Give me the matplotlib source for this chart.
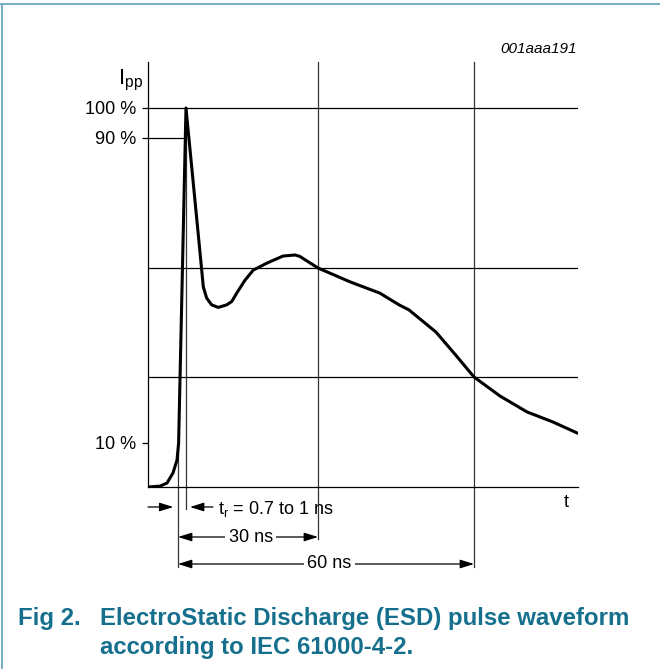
import numpy as np
import matplotlib
matplotlib.use('Agg')
import matplotlib.pyplot as plt
from matplotlib.lines import Line2D
from matplotlib.transforms import blended_transform_factory

plt.rcParams['font.family'] = ['Liberation Sans', 'DejaVu Sans']
plt.rcParams['mathtext.fontset'] = 'custom'
plt.rcParams['mathtext.rm'] = 'Liberation Sans'
plt.rcParams['mathtext.it'] = 'Liberation Sans:italic'

# ESD pulse: time in ns (0 = 10 % point), current in % of Ipp
t_ns = [-6, -3.6, -2.2, -1.0, -0.2, 0.13, 1.71, 5.08, 5.42, 6.15, 7.22, 8.64,
        10.43, 11.51, 12.58, 14.36, 16.13, 19.07, 22.5, 25.07, 26.1, 30,
        36.15, 41.9, 45.6, 47.5, 52.7, 56.5, 60, 65, 70.2, 75.2, 79.8]
i_pct = [0, 0.2, 0.9, 3.2, 6.1, 10, 100, 52.5, 48.5, 45.8, 44.2, 43.6,
         44.2, 45.0, 47.0, 50.1, 52.5, 54.4, 56.4, 56.7, 56.3, 53,
         49.7, 47.0, 44.2, 43.0, 37.7, 32.2, 27, 22.1, 18.0, 15.4, 12.6]

ytick_vals = [10, 90, 100]
ytick_labels = ['10 %', '90 %', '100 %']
level_lines = [27, 53, 100]       # horizontal reference levels
time_marks = [30, 60]             # vertical reference times, ns
dimensions = [('30 ns', 0, 30), ('60 ns', 0, 60)]
rise_label = 't$_\\mathrm{r}$ = 0.7 to 1 ns'

W, H = 660, 669
CAPTION_COLOR = '#16708d'
FRAME_COLOR = '#78b0c6'


def piecewise(k_in, k_out):
    k_in = np.asarray(k_in, float)
    k_out = np.asarray(k_out, float)
    lo = (k_out[1] - k_out[0]) / (k_in[1] - k_in[0])
    hi = (k_out[-1] - k_out[-2]) / (k_in[-1] - k_in[-2])

    def f(v):
        v = np.asarray(v, float)
        out = np.interp(v, k_in, k_out)
        out = np.where(v < k_in[0], k_out[0] + (v - k_in[0]) * lo, out)
        out = np.where(v > k_in[-1], k_out[-1] + (v - k_in[-1]) * hi, out)
        return out
    return f


# the drawing is schematic, so both axes use a non-uniform scale
x_knots = ([-6, 0, 30, 60, 80], [148, 178, 318, 474, 578])
y_knots = ([0, 10, 27, 53, 90, 100], [182, 226, 292, 401, 531, 561])
fx, ix = piecewise(*x_knots), piecewise(x_knots[1], x_knots[0])
fy_, iy = piecewise(*y_knots), piecewise(y_knots[1], y_knots[0])

fig = plt.figure(figsize=(W / 100, H / 100), dpi=100)
ax = fig.add_axes([148 / W, 182 / H, 430 / W, 425 / H])
ax.set_xscale('function', functions=(fx, ix))
ax.set_yscale('function', functions=(fy_, iy))


def fig_y(px):
    # vertical position in figure fraction, px measured from the top
    return 1 - px / H


blend = blended_transform_factory(ax.transData, fig.transFigure)

# reference lines
for lv in level_lines:
    ax.axhline(lv, color='black', lw=0.9)
peak = int(np.argmax(i_pct))
t90 = np.interp(90, i_pct[:peak + 1], t_ns[:peak + 1])
ax.plot([-6, t90], [90, 90], color='black', lw=0.9)

for tm, bottom in zip(time_marks, [539, 567]):
    ax.plot([tm, tm], [fig_y(62), fig_y(bottom)], transform=blend,
            color='#333333', lw=0.9, clip_on=False)
ax.plot([t_ns[peak]] * 2, [fig_y(108), fig_y(509)], transform=blend,
        color='#333333', lw=0.9, clip_on=False)
ax.plot([0, 0], [fig_y(443), fig_y(567)], transform=blend,
        color='#333333', lw=0.9, clip_on=False)

# waveform
ax.plot(t_ns, i_pct, color='black', lw=2.2, solid_joinstyle='round')

# dimension arrows
head = dict(color='black', lw=0.9, shrinkA=0, shrinkB=0, mutation_scale=12)
ax.annotate('', xy=(-0.94, fig_y(507)), xytext=(-6, fig_y(507)),
            xycoords=blend, textcoords=blend,
            arrowprops=dict(arrowstyle='-|>,head_length=0.7,head_width=0.22', **head))
ax.annotate('', xy=(2.57, fig_y(507)), xytext=(7.5, fig_y(507)),
            xycoords=blend, textcoords=blend,
            arrowprops=dict(arrowstyle='-|>,head_length=0.7,head_width=0.22', **head))
ax.text(8.57, fig_y(514), rise_label, transform=blend, fontsize=13,
        ha='left', va='baseline')

for (label, a, b), row in zip(dimensions, [537, 564]):
    ax.annotate('', xy=(b, fig_y(row)), xytext=(a, fig_y(row)),
                xycoords=blend, textcoords=blend,
                arrowprops=dict(arrowstyle='<|-|>,head_length=0.7,head_width=0.22', **head))
    mid = float(ix((fx(a) + fx(b)) / 2))
    ax.text(mid + 0.6, fig_y(row), label, transform=blend, fontsize=13,
            ha='center', va='center',
            bbox=dict(fc='white', ec='none', pad=2.5))

# axes
ax.set_xlim(-6, 80)
ax.set_ylim(0, 115.33)
for side in ['top', 'right']:
    ax.spines[side].set_visible(False)
for side in ['left', 'bottom']:
    ax.spines[side].set_linewidth(0.9)
ax.set_xticks([])
ax.set_yticks(ytick_vals, ytick_labels)
ax.tick_params(axis='y', length=4.3, width=0.9, pad=4.3, labelsize=13)
ax.patch.set_visible(False)

fig.text(143 / W, fig_y(84), 'I$_\\mathrm{pp}$', fontsize=16,
         ha='right', va='baseline')
fig.text(566 / W, fig_y(507), 't', fontsize=13, ha='center', va='baseline')
fig.text(577 / W, fig_y(53), '001aaa191', fontsize=11, style='italic',
         ha='right', va='baseline')

# caption
cap = dict(fontsize=17.25, fontweight='bold', color=CAPTION_COLOR, va='baseline')
fig.text(18 / W, fig_y(625), 'Fig 2.', **cap)
fig.text(100 / W, fig_y(625), 'ElectroStatic Discharge (ESD) pulse waveform', **cap)
fig.text(100 / W, fig_y(654), 'according to IEC 61000-4-2.', **cap)

# frame of the figure box
fig.add_artist(Line2D([0, 1], [fig_y(3.5)] * 2, transform=fig.transFigure,
                      color=FRAME_COLOR, lw=1.5))
fig.add_artist(Line2D([2 / W] * 2, [0, fig_y(3.5)], transform=fig.transFigure,
                      color=FRAME_COLOR, lw=1.5))

fig.savefig('out.png', dpi=100)
